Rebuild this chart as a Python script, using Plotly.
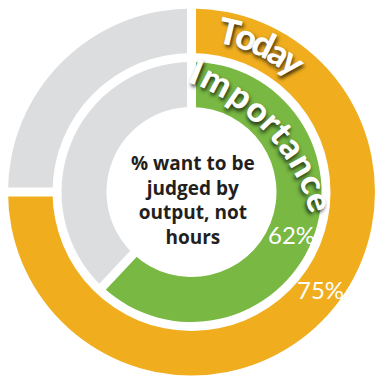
import math
import plotly.graph_objects as go

# ---------------- data ----------------
ring_names = ["Today", "Importance"]
today_values = [75, 25]          # share, rest
importance_values = [62, 38]     # share, rest
value_labels = ["75%", "62%"]
center_lines = ["% want to be", "judged by", "output, not", "hours"]

# ---------------- style / layout ----------------
W, H = 375, 378
CX, CY = 191.5, 192.0            # ring centre (px from top-left)
ORANGE = "#F0AE1F"
GREEN = "#78B843"
GRAY = "#DCDDDF"
DARK = "#231F20"
FONT = "Lato"
GAP = 9

OUTER_R, OUTER_IN = 183.5, 139.0
INNER_R, INNER_IN = 130.0, 85.0

# approximate glyph advances (em) used only to space the curved letters
ADV = {"T": .55, "o": .57, "d": .58, "a": .52, "y": .52, "I": .29, "m": .87, "p": .58,
       "r": .38, "t": .37, "n": .58, "c": .47, "e": .54}


def px(x, y):
    return x / W, 1 - y / H


def domain(r):
    return dict(x=[(CX - r) / W, min(1.0, (CX + r) / W)],
                y=[max(0.0, 1 - (CY + r) / H), 1 - (CY - r) / H])


fig = go.Figure()
fig.add_trace(go.Pie(values=today_values, labels=["Today", "Today rest"],
                     marker=dict(colors=[ORANGE, GRAY], line=dict(width=0)),
                     hole=OUTER_IN / OUTER_R, domain=domain(OUTER_R),
                     sort=False, direction="clockwise", rotation=0,
                     textinfo="none", hoverinfo="skip"))
fig.add_trace(go.Pie(values=importance_values, labels=["Importance", "Importance rest"],
                     marker=dict(colors=[GREEN, GRAY], line=dict(width=0)),
                     hole=INNER_IN / INNER_R, domain=domain(INNER_R),
                     sort=False, direction="clockwise", rotation=0,
                     textinfo="none", hoverinfo="skip"))

# white separators between slices (angles from the data)
shapes = []
for vals, r_in, r_out in [(today_values, OUTER_IN, OUTER_R), (importance_values, INNER_IN, INNER_R)]:
    tot = sum(vals)
    cum = 0
    for v in vals:
        a = math.radians(360 * cum / tot)
        x0, y0 = px(CX + (r_in - 2) * math.sin(a), CY - (r_in - 2) * math.cos(a))
        x1, y1 = px(CX + (r_out + 2) * math.sin(a), CY - (r_out + 2) * math.cos(a))
        shapes.append(dict(type="line", xref="paper", yref="paper", x0=x0, y0=y0, x1=x1, y1=y1,
                           line=dict(color="white", width=GAP), layer="above"))
        cum += v

annotations = []
shadow = "2px 2px 4px rgba(0,0,0,0.75)"


def arc_text(text, cx, cy, r, a_start, a_end, size):
    # centres proportional to glyph advances, spread between a_start and a_end
    centres, pos = [], 0.0
    for i, ch in enumerate(text):
        if i > 0:
            pos += (ADV[text[i - 1]] + ADV[ch]) / 2
        centres.append(pos)
    span = centres[-1]
    for ch, c in zip(text, centres):
        a = a_start + (a_end - a_start) * c / span
        ar = math.radians(a)
        x, y = px(cx + r * math.sin(ar), cy - r * math.cos(ar))
        annotations.append(dict(x=x, y=y, xref="paper", yref="paper", text=ch, showarrow=False,
                                textangle=a, xanchor="center", yanchor="middle",
                                font=dict(family=FONT, size=size, color="white", weight=900,
                                          shadow=shadow)))


arc_text(ring_names[0], CX, CY, 166, 13.4, 38.0, 36)
arc_text(ring_names[1], 119, 269, 213.5, 21.7, 71.3, 35)

# value labels
for lab, (lx, ly) in zip(value_labels, [(320.5, 289), (291.5, 234)]):
    x, y = px(lx, ly)
    annotations.append(dict(x=x, y=y, xref="paper", yref="paper", text=lab, showarrow=False,
                            xanchor="center", yanchor="middle",
                            font=dict(family=FONT, size=24, color="white")))

# centre text
x, y = px(193, 200)
annotations.append(dict(x=x, y=y, xref="paper", yref="paper", text="<br>".join(center_lines),
                        showarrow=False, xanchor="center", yanchor="middle", align="center",
                        font=dict(family="Open Sans", size=19, color=DARK, weight="bold")))

fig.update_layout(width=W, height=H, margin=dict(l=0, r=0, t=0, b=0),
                  paper_bgcolor="white", plot_bgcolor="white", showlegend=False,
                  shapes=shapes, annotations=annotations)

fig.write_html("out.html")
